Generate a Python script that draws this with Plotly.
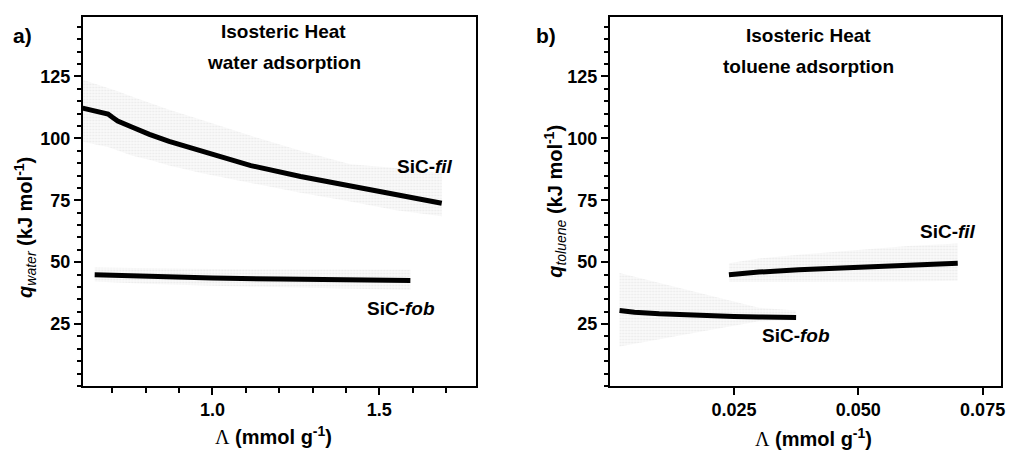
import plotly.graph_objects as go

# ---------------- data ----------------
# panel a: water adsorption
water_fil_x = [0.611, 0.65, 0.687, 0.700, 0.716, 0.76, 0.811, 0.870, 0.966, 1.115, 1.264, 1.413, 1.55, 1.687]
water_fil_y = [112.2, 111.0, 109.8, 108.5, 107.0, 104.5, 101.6, 98.8, 94.8, 89.0, 84.6, 80.8, 77.4, 73.8]
water_fil_hi = [123.7, 122.0, 120.5, 120.0, 119.0, 116.8, 114.3, 111.5, 107.5, 101.0, 95.0, 89.5, 88.0, 86.0]
water_fil_lo = [98.7, 97.5, 96.5, 96.0, 95.0, 93.0, 91.4, 89.0, 86.0, 82.0, 78.0, 74.5, 71.0, 68.5]

water_fob_x = [0.647, 0.8, 1.0, 1.2, 1.4, 1.593]
water_fob_y = [44.9, 44.2, 43.6, 43.2, 42.8, 42.6]
water_fob_hi = [47.9, 47.5, 47.2, 47.0, 46.9, 46.9]
water_fob_lo = [42.2, 41.3, 40.5, 40.0, 39.3, 38.8]

# panel b: toluene adsorption
tol_fil_x = [0.024, 0.030, 0.038, 0.050, 0.060, 0.070]
tol_fil_y = [44.9, 46.0, 46.9, 48.0, 48.9, 49.6]
tol_fil_hi = [49.6, 51.5, 53.0, 55.0, 56.5, 57.5]
tol_fil_lo = [42.0, 42.0, 42.0, 42.0, 42.2, 42.5]

tol_fob_x = [0.002, 0.005, 0.010, 0.016, 0.025, 0.030, 0.0375]
tol_fob_y = [30.5, 29.8, 29.2, 28.6, 28.1, 27.9, 27.7]
tol_fob_hi = [45.6, 44.1, 41.5, 38.5, 33.9, 31.6, 30.5]
tol_fob_lo = [15.9, 17.0, 18.9, 21.1, 24.4, 26.1, 26.5]

y_ticks = [25, 50, 75, 100, 125]
xa_ticks = [1.0, 1.5]
xa_ticklabels = ["1.0", "1.5"]
xb_ticks = [0.025, 0.050, 0.075]
xb_ticklabels = ["0.025", "0.050", "0.075"]

# ---------------- figure ----------------
W, H = 1011, 451
FONT = "Arial, 'Liberation Sans', Helvetica, sans-serif"
fig = go.Figure()

band_pattern = dict(shape=".", fgcolor="#dadada", bgcolor="#fbfbfb", size=3, solidity=0.4)


def add_band(x, hi, lo, xa, ya):
    fig.add_trace(go.Scatter(
        x=list(x) + list(x)[::-1], y=list(hi) + list(lo)[::-1],
        fill="toself", fillcolor="#f3f3f3", fillpattern=band_pattern,
        line=dict(width=0), mode="lines", hoverinfo="skip", showlegend=False,
        xaxis=xa, yaxis=ya))


def add_line(x, y, xa, ya):
    fig.add_trace(go.Scatter(
        x=x, y=y, mode="lines", line=dict(color="black", width=5),
        showlegend=False, xaxis=xa, yaxis=ya))


add_band(water_fil_x, water_fil_hi, water_fil_lo, "x", "y")
add_band(water_fob_x, water_fob_hi, water_fob_lo, "x", "y")
add_line(water_fil_x, water_fil_y, "x", "y")
add_line(water_fob_x, water_fob_y, "x", "y")

add_band(tol_fil_x, tol_fil_hi, tol_fil_lo, "x2", "y2")
add_band(tol_fob_x, tol_fob_hi, tol_fob_lo, "x2", "y2")
add_line(tol_fil_x, tol_fil_y, "x2", "y2")
add_line(tol_fob_x, tol_fob_y, "x2", "y2")

tickfont = dict(family=FONT, size=18, color="black", weight="bold")
common = dict(showline=True, linecolor="black", linewidth=1.5, mirror=True,
              showgrid=False, zeroline=False, ticks="outside", ticklen=7,
              tickwidth=1.5, tickcolor="black", tickfont=tickfont)

ydom = [1 - 386 / H, 1 - 17 / H]
fig.update_layout(
    width=W, height=H, margin=dict(l=0, r=0, t=0, b=0),
    paper_bgcolor="white", plot_bgcolor="white",
    xaxis=dict(domain=[83 / W, 478 / W], range=[0.611, 1.79], anchor="y",
               tickmode="array", tickvals=xa_ticks, ticktext=xa_ticklabels,
               minor=dict(tickmode="linear", tick0=0, dtick=0.1, ticks="outside",
                          ticklen=5, tickwidth=1.5, tickcolor="black"),
               **common),
    yaxis=dict(domain=ydom, range=[0, 149], anchor="x",
               tickmode="array", tickvals=y_ticks,
               minor=dict(tickmode="linear", tick0=0, dtick=5, ticks="outside",
                          ticklen=4, tickwidth=1.5, tickcolor="black"),
               **common),
    xaxis2=dict(domain=[612 / W, 1005 / W], range=[0, 0.0787], anchor="y2",
                tickmode="array", tickvals=xb_ticks, ticktext=xb_ticklabels,
                **common),
    yaxis2=dict(domain=ydom, range=[0, 149], anchor="x2",
                tickmode="array", tickvals=y_ticks,
                minor=dict(tickmode="linear", tick0=0, dtick=5, ticks="outside",
                           ticklen=4, tickwidth=1.5, tickcolor="black"),
                **common),
)


def px_ann(text, px, py, size, angle=0):
    fig.add_annotation(text=text, x=px / W, y=1 - py / H, xref="paper", yref="paper",
                       showarrow=False, xanchor="center", yanchor="middle",
                       textangle=angle, font=dict(family=FONT, size=size, color="black"))


def data_ann(text, x, y, xref, yref, size):
    fig.add_annotation(text=text, x=x, y=y, xref=xref, yref=yref, showarrow=False,
                       xanchor="center", yanchor="middle",
                       font=dict(family=FONT, size=size, color="black"))


# panel letters
px_ann("<b>a)</b>", 23, 35, 21)
px_ann("<b>b)</b>", 548, 35, 21)
# panel titles
px_ann("<b>Isosteric Heat</b>", 285, 32, 19)
px_ann("<b>water adsorption</b>", 285, 63, 19)
px_ann("<b>Isosteric Heat</b>", 812, 35, 19)
px_ann("<b>toluene adsorption</b>", 812, 66, 19)
# curve labels
data_ann("<b>SiC-<i>fil</i></b>", 1.637, 88.5, "x", "y", 19)
data_ann("<b>SiC-<i>fob</i></b>", 1.565, 31.2, "x", "y", 19)
data_ann("<b>SiC-<i>fil</i></b>", 0.0681, 62.3, "x2", "y2", 19)
data_ann("<b>SiC-<i>fob</i></b>", 0.0375, 20.3, "x2", "y2", 19)

# axis titles
lam = "<span style=\"font-family:'Liberation Serif', 'Times New Roman', serif\">Λ</span>"
xtitle = lam + " <b>(mmol g<sup>-1</sup>)</b>"
px_ann(xtitle, 275, 435, 20)
px_ann(xtitle, 817, 437, 20)
px_ann("<b><i>q</i></b><sub><i>water</i></sub><b> (kJ mol<sup>-1</sup>)</b>", 25, 227, 20, -90)
px_ann("<b><i>q</i></b><sub><i>toluene</i></sub><b> (kJ mol<sup>-1</sup>)</b>", 557, 201, 20, -90)

fig.write_html("out.html", config={"displayModeBar": False},
               post_script="document.body.style.margin='0';document.body.style.overflow='hidden';")
